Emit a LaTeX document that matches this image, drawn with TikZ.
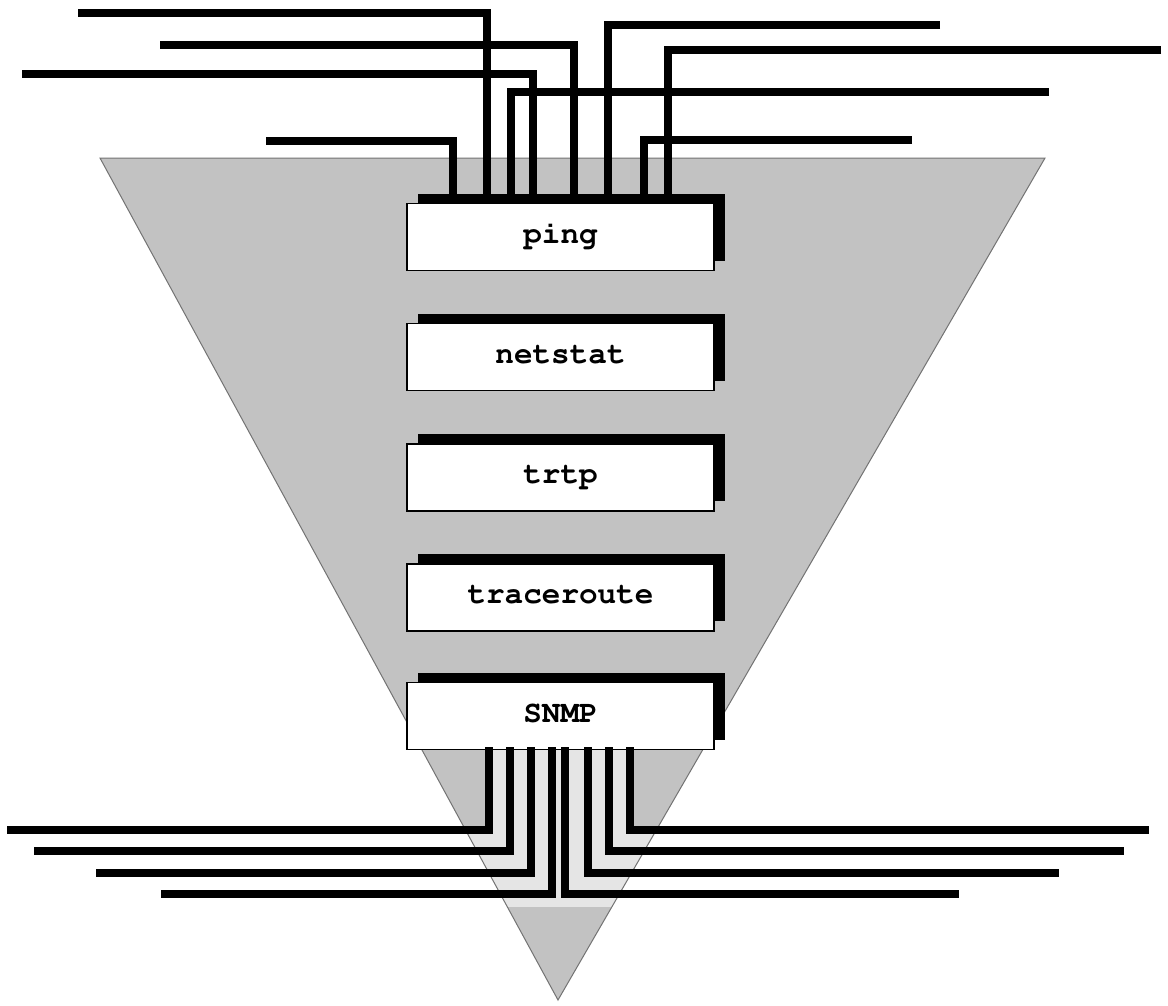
\documentclass[tikz,border=0pt]{standalone}
\usepackage{fontspec}
\usetikzlibrary{shadows}
\newcommand{\courierbold}{\fontencoding{T1}\fontfamily{pcr}\fontseries{b}\fontshape{n}\fontsize{31}{31}\selectfont}
\begin{document}
\begin{tikzpicture}[x=1pt,y=-1pt,
  wire/.style={line width=7.5pt, line join=miter, line cap=butt, draw=black},
  toolbox/.style={draw=black, line width=1.8pt, fill=white,
    minimum width=307pt, minimum height=67pt, inner sep=0pt,
    font=\courierbold,
    text height=12pt, text depth=0pt,
    drop shadow={shadow xshift=11pt, shadow yshift=10pt, opacity=1, fill=black}},
  tri/.style={fill=black!24},
  halo/.style={fill=black!10},
  triedge/.style={draw=black!55, line width=1pt}]

\fill[white] (0,0) rectangle (1168,1005);
\useasboundingbox (0,0) rectangle (1168,1005);

% funnel
\coordinate (tl) at (100,158);
\coordinate (tr) at (1045,158);
\coordinate (ap) at (558,1000);
\fill[tri] (tl) -- (tr) -- (ap) -- cycle;
\begin{scope}
  \clip (tl) -- (tr) -- (ap) -- cycle;
  \fill[halo] (493,748) rectangle (626,907);
  \fill[halo] (0,834) rectangle (1168,907);
\end{scope}
\draw[triedge] (tl) -- (tr) -- (ap) -- cycle;

% boxes
\node[toolbox] (ping) at (560.5,237) {ping};
\node[toolbox] (netstat) at (560.5,357) {netstat};
\node[toolbox] (trtp) at (560.5,477.5) {trtp};
\node[toolbox] (traceroute) at (560.5,597.5) {traceroute};
\node[toolbox] (snmp) at (560.5,716) {SNMP};

% top wire free ends
\coordinate (wa) at (78,13);
\coordinate (wb) at (160,45);
\coordinate (wc) at (22,74);
\coordinate (wd) at (1049,92);
\coordinate (we) at (266,141);
\coordinate (wf) at (940,25);
\coordinate (wg) at (1161,50);
\coordinate (wh) at (912,140);

\draw[wire] (we) -| ([xshift=-107.5pt,yshift=6pt]ping.north);
\draw[wire] (wa) -| ([xshift=-73.5pt,yshift=6pt]ping.north);
\draw[wire] (wd) -| ([xshift=-49.5pt,yshift=6pt]ping.north);
\draw[wire] (wc) -| ([xshift=-27.5pt,yshift=6pt]ping.north);
\draw[wire] (wb) -| ([xshift=13.5pt,yshift=6pt]ping.north);
\draw[wire] (wf) -| ([xshift=47.5pt,yshift=6pt]ping.north);
\draw[wire] (wh) -| ([xshift=83.5pt,yshift=6pt]ping.north);
\draw[wire] (wg) -| ([xshift=107.5pt,yshift=6pt]ping.north);

% bottom wire free ends
\coordinate (l1) at (7,830);
\coordinate (l2) at (34,851);
\coordinate (l3) at (96,873);
\coordinate (l4) at (161,894);
\coordinate (r4) at (959,894);
\coordinate (r3) at (1059,873);
\coordinate (r2) at (1124,851);
\coordinate (r1) at (1149,830);

\draw[wire] ([xshift=-71.5pt,yshift=3pt]snmp.south) |- (l1);
\draw[wire] ([xshift=-50.5pt,yshift=3pt]snmp.south) |- (l2);
\draw[wire] ([xshift=-29.5pt,yshift=3pt]snmp.south) |- (l3);
\draw[wire] ([xshift=-8.5pt,yshift=3pt]snmp.south) |- (l4);
\draw[wire] ([xshift=4.5pt,yshift=3pt]snmp.south) |- (r4);
\draw[wire] ([xshift=27.5pt,yshift=3pt]snmp.south) |- (r3);
\draw[wire] ([xshift=48.5pt,yshift=3pt]snmp.south) |- (r2);
\draw[wire] ([xshift=69.5pt,yshift=3pt]snmp.south) |- (r1);
\end{tikzpicture}
\end{document}
